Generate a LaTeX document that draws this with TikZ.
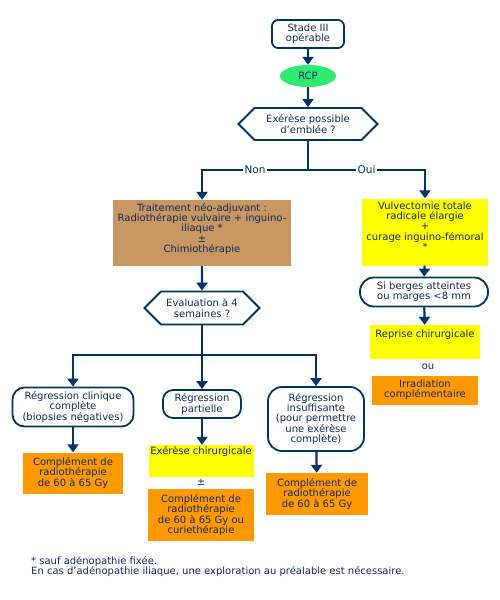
\documentclass[tikz,border=0pt]{standalone}
\usepackage{fontspec}
\setmainfont{DejaVu Sans}
\usetikzlibrary{arrows.meta,shapes.geometric,shapes.symbols}
\definecolor{navy}{RGB}{0,51,102}
\definecolor{ink}{RGB}{18,42,92}
\definecolor{vert}{RGB}{46,234,115}
\definecolor{brun}{RGB}{201,151,98}
\definecolor{jaune}{RGB}{255,255,0}
\definecolor{orangebox}{RGB}{255,153,0}

\begin{document}
\begin{tikzpicture}[x=1pt,y=-1pt,font=\fontsize{10}{10.4}\selectfont,
  every node/.style={text=ink,align=center,inner sep=0pt},
  ln/.style={draw=navy,line width=2.2pt},
  arr/.style={ln,-{Triangle[width=11pt,length=8pt]}},
  rbox/.style={draw=navy,line width=1.8pt,rounded corners=#1,fill=white},
  hexa/.style={shape=signal,signal to=west and east,signal pointer angle=90,
    draw=navy,line width=1.8pt,fill=white},
  fillbox/.style={fill=#1,minimum width=\boxw,minimum height=\boxh},
  lbl/.style={fill=white,inner sep=2pt,font=\fontsize{10.5}{11}\selectfont}]

\useasboundingbox (0,0) rectangle (500,600);

\node[rbox=6pt,minimum width=72pt,minimum height=28pt] (stade) at (308,34) {Stade III\\opérable};
\node[ellipse,fill=vert,minimum width=56pt,minimum height=22pt] (rcp) at (308,76) {RCP};
\node[hexa,minimum width=139pt,minimum height=32pt] (exq) at (308,124) {Exérèse possible\\d'emblée ?};
\coordinate (split) at (308,170);

\def\boxw{178pt}\def\boxh{66pt}
\node[fillbox=brun] (neo) at (202,233) {};
\node at (202,229) {Traitement néo-adjuvant :\\Radiothérapie vulvaire + inguino-\\iliaque *\\±\\Chimiothérapie};
\node[hexa,minimum width=115pt,minimum height=33pt] (evalq) at (202,308) {Evaluation à 4\\semaines ?};
\coordinate (split2) at (202,355);

\node[rbox=12pt,minimum width=121pt,minimum height=39pt] (regcc) at (73,407) {Régression clinique\\complète\\(biopsies négatives)};
\node[rbox=10pt,minimum width=78pt,minimum height=28pt] (regp) at (202,404) {Régression\\partielle};
\node[rbox=14pt,minimum width=96pt,minimum height=64pt] (regi) at (316,419) {Régression\\insuffisante\\(pour permettre\\une exérèse\\complète)};

\def\boxw{100pt}\def\boxh{41pt}
\node[fillbox=orangebox] (comp1) at (73,473) {Complément de\\radiothérapie\\de 60 à 65 Gy};
\def\boxw{105pt}\def\boxh{32pt}
\node[fillbox=jaune] (exchir) at (201,461) {};
\node at (201,452) {Exérèse chirurgicale};
\node (pm) at (201,482) {±};
\def\boxw{106pt}\def\boxh{52pt}
\node[fillbox=orangebox] (comp2) at (201,515) {Complément de\\radiothérapie\\de 60 à 65 Gy ou\\curiethérapie};
\def\boxw{102pt}\def\boxh{42pt}
\node[fillbox=orangebox] (comp3) at (317,494) {Complément de\\radiothérapie\\de 60 à 65 Gy};

\def\boxw{126pt}\def\boxh{67pt}
\node[fillbox=jaune] (vulv) at (425,232) {};
\node at (425,226) {Vulvectomie totale\\radicale élargie\\+\\curage inguino-fémoral\\*};
\node[rbox=14pt,minimum width=128pt,minimum height=29pt] (berges) at (424,292) {Si berges atteintes\\ou marges <8 mm};
\def\boxw{110pt}\def\boxh{34pt}
\node[fillbox=jaune] (reprise) at (425,342) {};
\node at (425,335) {Reprise chirurgicale};
\node (ou) at (428,367) {ou};
\def\boxw{106pt}\def\boxh{29pt}
\node[fillbox=orangebox] (irrad) at (425,390) {Irradiation\\complémentaire};

\node[anchor=west,align=left] (note) at (31,566.5) {* sauf adénopathie fixée.\\En cas d'adénopathie iliaque, une exploration au préalable est nécessaire.};

\draw[arr] (stade) -- (rcp);
\draw[arr] (rcp) -- (exq);
\draw[ln] (exq.south) -- (split);
\draw[arr] (split) -| node[lbl,pos=0.25] {Non} (neo.north);
\draw[arr] (split) -| node[lbl,pos=0.25] {Oui} (vulv.north);
\draw[arr] (neo) -- (evalq);
\draw[ln] (evalq.south) -- (split2);
\draw[arr] (split2) -| (regcc.north);
\draw[arr] (split2) -- (regp.north);
\draw[arr] (split2) -| (regi.north);
\draw[arr] (regcc) -- (comp1);
\draw[arr] (regp.south) -- (regp.south |- exchir.north);
\draw[arr] (regi) -- (comp3);
\draw[arr] (vulv) -- (berges);
\draw[arr] (berges) -- (reprise);

\end{tikzpicture}
\end{document}
